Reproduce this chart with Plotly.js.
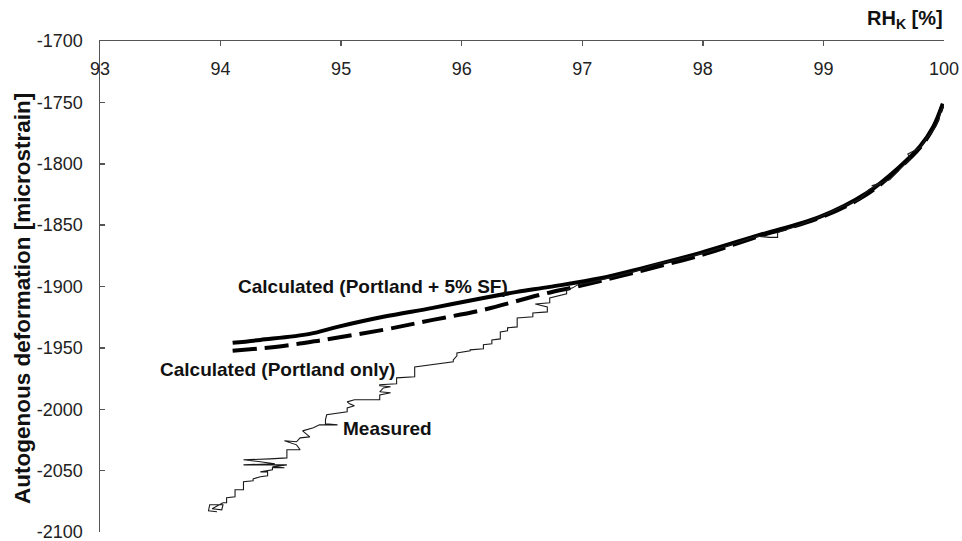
<!DOCTYPE html>
<html>
<head>
<meta charset="utf-8">
<script src="https://cdn.plot.ly/plotly-3.0.1.min.js"></script>
<style>html,body{margin:0;padding:0;background:#fff}#chart{width:962px;height:541px}</style>
</head>
<body>
<div id="chart"></div>
<script>
// Calculated (Portland + 5% SF) - thick solid
const sfX = [94.10, 94.33, 94.74, 94.97, 95.35, 95.76, 96.18, 96.46, 96.73, 97.15, 97.50, 97.98, 98.47, 98.97, 99.36, 99.63, 99.80, 99.91, 99.99];
const sfY = [-1945.9, -1943.5, -1938.6, -1932.9, -1924.7, -1917.4, -1909.3, -1904.4, -1900.3, -1893.3, -1885.0, -1872.6, -1858.0, -1843.3, -1823.8, -1802.6, -1786.0, -1770.0, -1751.0];

// Calculated (Portland only) - thick dashed
const pcX = [94.10, 94.52, 94.85, 95.35, 95.76, 96.18, 96.65, 97.00, 97.50, 98.00, 98.47, 98.97, 99.36, 99.63, 99.80, 99.91, 99.99];
const pcY = [-1952.4, -1948.4, -1943.5, -1935.3, -1927.2, -1919.0, -1906.8, -1899.0, -1887.0, -1874.0, -1859.0, -1844.0, -1825.0, -1803.5, -1787.0, -1771.0, -1752.0];

// Measured - thin line
const msX = [93.97, 93.90, 93.91, 94.02, 94.01, 93.93, 94.02, 94.05, 94.05, 94.12,
             94.12, 94.19, 94.19, 94.27, 94.27, 94.33, 94.39, 94.39, 94.33, 94.43,
             94.43, 94.53, 94.43, 94.55, 94.19, 94.45, 94.33, 94.19, 94.41, 94.55,
             94.55, 94.55, 94.66, 94.63, 94.53, 94.63, 94.66, 94.74, 94.68, 94.77,
             94.82, 94.97, 94.87, 94.87, 94.88, 94.97, 95.05, 95.05, 95.11, 95.07,
             95.05, 95.11, 95.32, 95.32, 95.41, 95.32, 95.35, 95.41, 95.32, 95.32,
             95.46, 95.46, 95.61, 95.61, 95.79, 95.93, 95.93, 95.96, 95.96, 96.07,
             96.07, 96.18, 96.18, 96.25, 96.25, 96.32, 96.32, 96.38, 96.38, 96.46,
             96.46, 96.59, 96.59, 96.71, 96.71, 96.61, 96.73, 96.73, 96.87, 96.87,
             96.92, 96.96, 97.09, 97.15, 97.30, 97.50, 97.60, 97.75, 98.00, 98.20,
             98.45, 98.55, 98.62, 98.62, 98.75, 98.90, 99.05, 99.15, 99.30, 99.38,
             99.48, 99.40, 99.55, 99.62, 99.72, 99.70, 99.80, 99.85, 99.88, 99.93,
             99.96, 99.97, 100.00];
const msY = [-2083.5, -2082.7, -2077.8, -2077.8, -2081.9, -2081.1, -2076.2, -2076.2, -2072.1, -2071.3,
             -2065.6, -2065.6, -2059.1, -2058.3, -2056.7, -2055.0, -2054.2, -2051.0, -2051.0, -2049.3,
             -2047.7, -2047.7, -2046.9, -2045.3, -2045.3, -2044.4, -2042.8, -2041.2, -2040.4, -2039.6,
             -2035.5, -2033.0, -2033.0, -2029.0, -2025.7, -2026.5, -2023.3, -2022.5, -2017.6, -2015.1,
             -2012.7, -2012.7, -2011.9, -2008.6, -2004.5, -2002.9, -2002.1, -1998.9, -1997.2, -1995.6,
             -1994.0, -1992.3, -1992.3, -1988.3, -1986.6, -1985.8, -1982.6, -1981.7, -1980.9, -1980.1,
             -1979.3, -1974.4, -1973.6, -1965.5, -1963.0, -1961.4, -1959.8, -1956.5, -1954.1, -1952.4,
             -1951.6, -1950.8, -1947.5, -1946.7, -1943.5, -1942.7, -1937.0, -1936.1, -1933.7, -1932.9,
             -1925.6, -1924.7, -1921.5, -1920.7, -1916.6, -1914.2, -1913.3, -1909.3, -1906.0, -1902.8,
             -1901.1, -1898.7, -1896.2, -1894.6, -1891.0, -1886.0, -1882.0, -1879.0, -1873.0, -1867.0,
             -1859.0, -1860.0, -1860.0, -1856.0, -1852.0, -1846.0, -1840.0, -1835.0, -1829.0, -1821.0,
             -1816.0, -1818.0, -1813.0, -1806.0, -1796.0, -1792.0, -1787.0, -1780.0, -1776.0, -1770.0,
             -1764.0, -1758.0, -1752.0];

const xTicks = [93, 94, 95, 96, 97, 98, 99, 100];
const yTicks = [-1700, -1750, -1800, -1850, -1900, -1950, -2000, -2050, -2100];

const labels = {
  sf: 'Calculated (Portland + 5% SF)',
  pc: 'Calculated (Portland only)',
  ms: 'Measured',
  xTitle: 'RH<sub>K</sub> [%]',
  yTitle: 'Autogenous deformation [microstrain]'
};

const FONT = 'Liberation Sans, Arial, sans-serif';
const AXC = '#555';

const traces = [
  {x: msX, y: msY, xaxis: 'x2', yaxis: 'y', mode: 'lines', line: {color: '#1a1a1a', width: 1.1}, hoverinfo: 'skip'},
  {x: pcX, y: pcY, mode: 'lines', line: {color: '#000', width: 4, dash: '24px,8px', shape: 'spline'}},
  {x: sfX, y: sfY, mode: 'lines', line: {color: '#000', width: 4, shape: 'spline'}}
];

const layout = {
  width: 962, height: 541,
  margin: {l: 100, r: 18, t: 41, b: 9},
  showlegend: false,
  paper_bgcolor: '#fff', plot_bgcolor: '#fff',
  font: {family: FONT, size: 18, color: '#222'},
  xaxis: {
    range: [93, 100], side: 'top', tickvals: xTicks,
    ticks: 'inside', ticklen: 5, tickcolor: AXC, tickwidth: 1.5,
    showticklabels: false, showgrid: false, zeroline: false,
    showline: true, linecolor: AXC, linewidth: 1.5
  },
  xaxis2: {
    range: [93, 100], overlaying: 'x', anchor: 'free', position: 0.9695, side: 'bottom',
    tickvals: xTicks, ticktext: xTicks.map(String), ticks: '',
    showline: false, showgrid: false, zeroline: false, ticklabeloverflow: 'allow',
    tickfont: {family: FONT, size: 18, color: '#222'}
  },
  yaxis: {
    range: [-2100, -1700], tickvals: yTicks, ticktext: yTicks.map(String),
    ticks: 'inside', ticklen: 5, tickcolor: AXC, tickwidth: 1.5,
    ticklabelstandoff: 12, ticklabeloverflow: 'allow', showgrid: false, zeroline: false,
    showline: true, linecolor: AXC, linewidth: 1.5,
    tickfont: {family: FONT, size: 18, color: '#222'}
  },
  annotations: [
    {text: labels.sf, xref: 'paper', yref: 'paper', x: 0.3235, y: 0.499, xanchor: 'center', yanchor: 'middle',
     showarrow: false, font: {family: FONT, size: 19, color: '#111', weight: 'bold'}},
    {text: labels.pc, xref: 'paper', yref: 'paper', x: 0.2103, y: 0.330, xanchor: 'center', yanchor: 'middle',
     showarrow: false, font: {family: FONT, size: 19, color: '#111', weight: 'bold'}},
    {text: labels.ms, xref: 'paper', yref: 'paper', x: 0.3412, y: 0.2118, xanchor: 'center', yanchor: 'middle',
     showarrow: false, font: {family: FONT, size: 19, color: '#111', weight: 'bold'}},
    {text: '<b>' + labels.xTitle + '</b>', xref: 'paper', yref: 'paper', x: 1.0012, y: 1.0428,
     xanchor: 'right', yanchor: 'middle', showarrow: false,
     font: {family: FONT, size: 20, color: '#111'}},
    {text: '<b>' + labels.yTitle + '</b>', xref: 'paper', yref: 'paper', x: -0.0924, y: 0.4745,
     textangle: -90, showarrow: false, xanchor: 'center', yanchor: 'middle',
     font: {family: FONT, size: 22.5, color: '#111'}}
  ]
};

Plotly.newPlot('chart', traces, layout, {displayModeBar: false, staticPlot: true});
</script>
</body>
</html>
